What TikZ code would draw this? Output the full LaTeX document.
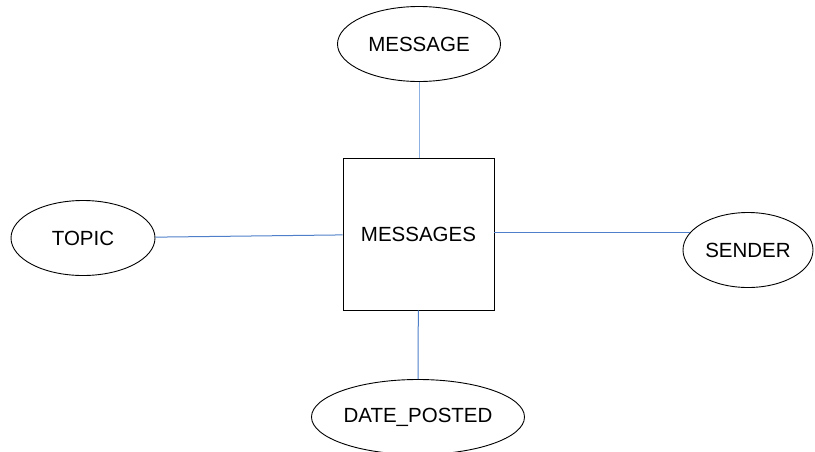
\documentclass[tikz,border=0pt]{standalone}
\usepackage{fontspec}
\setmainfont{Liberation Sans}
\usetikzlibrary{shapes.geometric}

\definecolor{linkblue}{HTML}{4F7FC8}
\definecolor{linklight}{HTML}{8DB0E2}
\tikzset{
  attr/.style={ellipse, draw=black, line width=.9pt, inner sep=0pt, minimum height=75},
  entity/.style={rectangle, draw=black, line width=.9pt, inner sep=0pt, minimum width=151, minimum height=152},
  link/.style={draw=linkblue, line width=1pt},
}

\begin{document}
\begin{tikzpicture}[x=1pt, y=-1pt, font=\fontsize{20.5}{24}\selectfont]
\useasboundingbox (0,0) rectangle (815,451);
\node[entity] (messages) at (418.5,234) {MESSAGES};
\node[attr, minimum width=163] (message) at (419,44) {MESSAGE};
\node[attr, minimum width=144] (topic) at (83,238) {TOPIC};
\node[attr, minimum width=130] (sender) at (748,250) {SENDER};
\node[attr, minimum width=213] (dateposted) at (418,417) {DATE\_POSTED};
% connectors
\draw[link, draw=linklight] (message) -- (message |- messages.north);
\draw[link] (topic) -- (messages);
\draw[link] (sender.163) -- (sender.163 -| messages.east);
\draw[link] (messages) -- (dateposted);
\end{tikzpicture}
\end{document}
